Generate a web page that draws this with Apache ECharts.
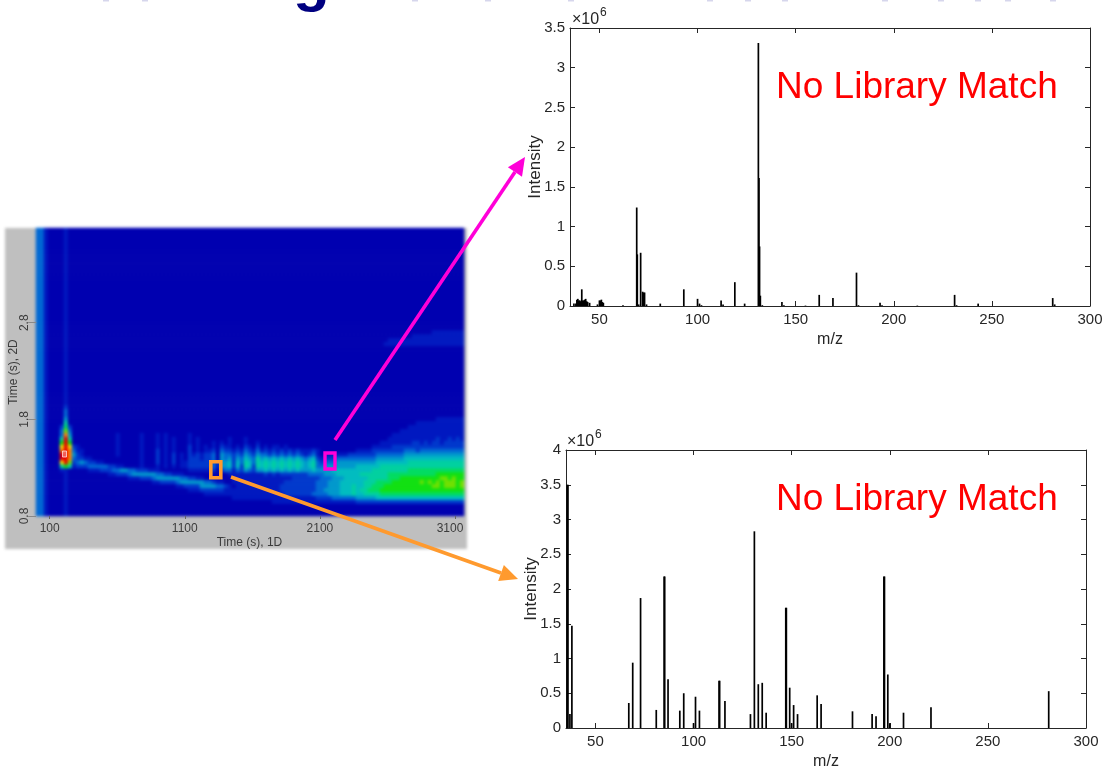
<!DOCTYPE html>
<html>
<head>
<meta charset="utf-8">
<style>
html,body{margin:0;padding:0;background:#fff;width:1106px;height:767px;overflow:hidden}
#heat,#main{position:absolute;left:0;top:0;width:1106px;height:767px}
#heat{filter:blur(1.5px)}
</style>
<script src="https://cdn.jsdelivr.net/npm/echarts@6/dist/echarts.min.js"></script>
</head>
<body>
<div id="heat"></div>
<div id="main"></div>
<script>
// ---- top spectrum (m/z, intensity in 10^6) ----
const topMz = [37,38,38.5,39,39.5,40,40.5,41,41.5,42,42.5,43,43.5,44,45,49,50,50.5,51,51.5,52,62,69,69.3,70,71,72,72.5,73,74,81,93,100,101,102,112,113,119,124,131,131.3,131.6,132,133,143,144,155,162,169,181,182,193,194,212,231,232,243,281,282];
const topIntensity = [0.03,0.03,0.08,0.09,0.07,0.07,0.06,0.21,0.07,0.07,0.08,0.09,0.06,0.05,0.04,0.02,0.07,0.07,0.08,0.05,0.04,0.01,1.24,0.65,0.02,0.67,0.18,0.17,0.17,0.02,0.03,0.21,0.09,0.03,0.01,0.07,0.02,0.30,0.03,3.31,1.61,0.75,0.13,0.01,0.05,0.01,0.005,0.14,0.10,0.42,0.01,0.04,0.01,0.005,0.14,0.01,0.03,0.10,0.02];
// ---- bottom spectrum ----
const botMz = [35.6,36,37,38,67,69,73,81,85,85.3,87,93,95,100,101,103,113,113.3,116,129,131,133,135,137,147,147.3,149,150,151,153,163,165,181,191,193,197,197.3,199,200,207,221,281];
const botIntensity = [3.5,3.5,0.2,1.47,0.36,0.94,1.87,0.26,2.18,2.18,0.70,0.25,0.5,0.07,0.45,0.25,0.68,0.68,0.39,0.2,2.83,0.63,0.65,0.22,1.73,1.73,0.58,0.07,0.33,0.2,0.47,0.345,0.24,0.2,0.17,2.18,2.18,0.77,0.07,0.22,0.3,0.53];
// ---- tick labels ----
const mzTicks = [50,100,150,200,250,300];
const time1DTicks = [100,1100,2100,3100];
const time2DTicks = [0.8,1.8,2.8];
// ---- 2D chromatogram, hand-read intensity levels (hex digit per cell, top to bottom, left to right) ----
const columnLevels = [3,3,1,0,0,0,0,1];
const heatRows = [
'','','','','','','','','','','','','','','','','','','','','','','','','','',
'0000000000 0000000000 0000000000 0000000000 0000000000 0000000000 0000000000 0000000000 0000000000 0000000001 1111111',
'0000000000 0000000000 0000000000 0000000000 0000000000 0000000000 0000000000 0000000000 0000000000 0000111111 1111111',
'0000000000 0000000000 0000000000 0000000000 0000000000 0000000000 0000000000 0000000000 0000000011 1111111111 1111111',
'0000000000 0000000000 0000000000 0000000000 0000000000 0000000000 0000000000 0000000000 0000000111 1111111111 1111111',
'','','','','','','','','','','','','','','',
'0000000200',
'0000000300',
'0000000300',
'0000000400 0000000000 0000000000 0000000000 0000000000 0000000000 0000000000 0000000000 0000000000 0000000000 1111111',
'0000000600 0000000000 0000000000 0000000000 0000000000 0000000000 0000000000 0000000000 0000000000 0000011111 1111111',
'0000002720 0000000000 0000000000 0000000000 0000000000 0000000000 0000000000 0000000000 0000000000 0001111111 1111111',
'0000003930 0000000000 0000000000 0000000000 0000000000 0000000000 0000000000 0000000000 0000000000 0111111111 1111111',
'0000003b40 0000000000 1000001000 1010000010 0000000000 0000000000 0000000000 0000000000 0000000001 1111111111 1111111',
'0000006c60 0000000000 1000001000 1010100010 1000000010 0010000000 0000000000 0000000000 0000000011 1111111111 2112121',
'0000008c80 0000000000 1000001000 1010100010 1000101010 0010010000 0000000000 0000000000 0000001111 1111221212 2122222',
'000000aca2 1000000000 1000001000 1010100020 1010102110 1021020101 1010000000 0000000000 0000111112 2222222222 2222222',
'000000bcb3 1100000000 1000001000 2010100020 1011203221 2132131212 1212121112 1000000000 1111222222 2233323333 3333333',
'000000ccb4 2100000000 1000001000 2010201021 2122304332 3243243323 2323232123 1011111122 2222233333 3344444444 4444444',
'000000ccb3 2211000000 0000001000 2010201022 2122304342 4354364545 4545454345 2122233333 3333344444 4455555555 5555555',
'000000ac92 3432211000 0000001000 2010201122 2222314452 5365365656 5656565456 3233344444 4444455555 5556666666 6666666',
'0000006861 2223333322 1100001000 1010101122 2222314452 5265265656 5656565456 3344444444 5555556666 6666666666 6666666',
'0000001100 0001112223 3443322211 1000000011 1111202331 3243244545 4545454445 4444555555 5555666666 6667777777 7777777',
'0000000000 0000000011 2223444444 3322111000 0000000011 1111111212 1222222233 3344455555 5666666677 7777777777 8888888',
'0000000000 0000000000 0001112223 4444443322 1100000001 1111111111 1111222222 2333444555 5556666677 7888888888 8998988',
'0000000000 0000000000 0000000001 1222234444 4433211001 1111111111 1122222222 3334445555 5566677778 8888889898 9899989',
'0000000000 0000000000 0000000000 0000011222 2444433210 1111111111 1222222222 3334445556 5566777888 8888888889 9899989',
'0000000000 0000000000 0000000000 0000000011 1222222111 1111111111 1222222222 3344445556 5667778888 8888888888 8888888',
'0000000000 0000000000 0000000000 0000000000 0011111111 1111111111 1122222223 3334445556 5566667777 7777777777 7777777',
'0000000000 0000000000 0000000000 0000000000 0000000001 1111111111 1111111111 2222333333 4444455555 5555555555 5555555',
'0000000000 0000000000 0000000000 0000000000 0000000000 0000000001 1111111111 1111111111 2222222222 2222222222 2222222',
'',
'','' 
];
const heatColors = ['#0000b0','#0018c0','#0038cc','#0068d4','#0098cc','#00bcc0','#00d0a0','#00dc60','#10e010','#70e000','#f0e000','#ff8000','#e80000'];

const FONT = '"Liberation Sans", Arial, sans-serif';
const COLS = 107, ROWS = heatRows.length;
const heatData = [];
for (let r = 0; r < ROWS; r++) {
  const s = heatRows[r].replace(/ /g, '');
  for (let c = 0; c < COLS; c++) {
    const v = parseInt(s[c] || '0', 16);
    heatData.push([c, r, Math.max(v, columnLevels[c] || 0)]);
  }
}
const colCats = Array.from({length: COLS}, (_, i) => i);
const rowCats = Array.from({length: ROWS}, (_, i) => i);

const heat = echarts.init(document.getElementById('heat'), null, {renderer: 'canvas'});
heat.setOption({
  animation: false,
  graphic: [{type: 'rect', z: -10, shape: {x: 5, y: 228, width: 462, height: 321}, style: {fill: '#bfbfbf'}}],
  grid: {left: 36, top: 228, width: 428, height: 288, containLabel: false, outerBoundsMode: 'none'},
  xAxis: {type: 'category', data: colCats, show: false},
  yAxis: {type: 'category', data: rowCats, inverse: true, show: false},
  visualMap: {show: false, min: 0, max: 12, inRange: {color: heatColors}, calculable: false},
  series: [{type: 'heatmap', data: heatData, progressive: 0, silent: true, itemStyle: {borderWidth: 0}}]
});

const INK = '#262626';
function specX(i, g, mirror) {
  return {
    type: 'value', gridIndex: g, min: 35, max: 300, position: mirror ? 'top' : 'bottom',
    name: mirror ? '' : 'm/z', nameLocation: 'middle', nameGap: 26,
    nameTextStyle: {fontFamily: FONT, fontSize: 16, color: INK},
    axisLine: {show: true, onZero: false, lineStyle: {color: INK, width: 1}},
    axisTick: {show: true, inside: true, length: 5, customValues: mzTicks, lineStyle: {color: INK}},
    axisLabel: {show: !mirror, customValues: mzTicks, margin: 6, fontFamily: FONT, fontSize: 15, color: INK, hideOverlap: false, showMinLabel: true, showMaxLabel: true},
    splitLine: {show: false}
  };
}
function specY(g, maxV, mirror) {
  return {
    type: 'value', gridIndex: g, min: 0, max: maxV, interval: 0.5, position: mirror ? 'right' : 'left',
    name: mirror ? '' : 'Intensity', nameLocation: 'middle', nameGap: 26, nameMoveOverlap: false,
    nameTextStyle: {fontFamily: FONT, fontSize: 17, color: INK},
    axisLine: {show: true, onZero: false, lineStyle: {color: INK, width: 1}},
    axisTick: {show: true, inside: true, length: 5, lineStyle: {color: INK}},
    axisLabel: {show: !mirror, margin: 5, fontFamily: FONT, fontSize: 15, color: INK},
    splitLine: {show: false}
  };
}
const GREY = '#3c3c3c';
const zip = (a, b) => a.map((v, i) => [v, b[i]]);
function arrow(x1, y1, x2, y2, color, w) {
  const a = Math.atan2(y2 - y1, x2 - x1), L = 18, H = 8.5;
  const bx = x2 - L * Math.cos(a), by = y2 - L * Math.sin(a);
  const nx = -Math.sin(a), ny = Math.cos(a);
  return [
    {type: 'line', z: 20, shape: {x1, y1, x2: bx, y2: by}, style: {stroke: color, lineWidth: w}},
    {type: 'polygon', z: 20, shape: {points: [[x2, y2], [bx + nx * H, by + ny * H], [bx - nx * H, by - ny * H]]}, style: {fill: color}}
  ];
}
const ghostTitleMarks = [103,142,412,485,568,707,745,782,882,938,975,1005,1050];

const main = echarts.init(document.getElementById('main'), null, {renderer: 'canvas'});
main.setOption({
  animation: false,
  backgroundColor: 'transparent',
  grid: [
    {left: 36, top: 228, width: 427, height: 288, outerBoundsMode: 'none'},
    {left: 570, top: 28, width: 520, height: 278, outerBoundsMode: 'none'},
    {left: 566, top: 450, width: 520, height: 278, outerBoundsMode: 'none'}
  ],
  xAxis: [
    {
      type: 'value', gridIndex: 0, min: -1, max: 3159, position: 'bottom',
      name: 'Time (s), 1D', nameLocation: 'middle', nameGap: 21,
      nameTextStyle: {fontFamily: FONT, fontSize: 12, color: GREY},
      axisLine: {show: false},
      axisTick: {show: true, length: 3, customValues: time1DTicks, lineStyle: {color: '#666'}},
      axisLabel: {
        customValues: time1DTicks, margin: 7, fontFamily: FONT, fontSize: 12, color: GREY,
        formatter: v => v === 3100 ? '{s|' + v + '}' : String(v),
        rich: {s: {fontFamily: FONT, fontSize: 12, color: GREY, padding: [0, 10, 0, 0]}}
      },
      splitLine: {show: false}
    },
    specX(0, 1, false), specX(0, 1, true),
    specX(0, 2, false), specX(0, 2, true)
  ],
  yAxis: [
    {
      type: 'value', gridIndex: 0, min: 0.8, max: 3.78, position: 'left',
      name: 'Time (s), 2D', nameLocation: 'middle', nameGap: 16, nameMoveOverlap: false,
      nameTextStyle: {fontFamily: FONT, fontSize: 12, color: GREY},
      axisLine: {show: false},
      axisTick: {show: true, length: 8, customValues: time2DTicks, lineStyle: {color: '#888'}},
      axisLabel: {customValues: time2DTicks, rotate: 90, margin: 5, fontFamily: FONT, fontSize: 12, color: GREY},
      splitLine: {show: false}
    },
    specY(1, 3.5, false), specY(1, 3.5, true),
    specY(2, 4, false), specY(2, 4, true)
  ],
  series: [
    {type: 'bar', xAxisIndex: 1, yAxisIndex: 1, barWidth: 1.7, silent: true, itemStyle: {color: '#000'}, data: zip(topMz, topIntensity)},
    {type: 'bar', xAxisIndex: 3, yAxisIndex: 3, barWidth: 1.7, silent: true, itemStyle: {color: '#000'}, data: zip(botMz, botIntensity)}
  ],
  graphic: [
    {type: 'text', z: 5, x: 293, y: 13, style: {text: 'g', fontFamily: FONT, fontWeight: 'bold', fontSize: 60, fill: '#000080', verticalAlign: 'bottom'}},
    ...ghostTitleMarks.map(x => ({type: 'rect', z: 5, shape: {x: x, y: 0, width: 6, height: 1.5}, style: {fill: '#d6d6ec'}})),
    {type: 'text', z: 10, x: 572, y: 20, style: {text: '×10', fontFamily: FONT, fontSize: 16, fill: INK, verticalAlign: 'middle'}},
    {type: 'text', z: 10, x: 600, y: 13, style: {text: '6', fontFamily: FONT, fontSize: 12, fill: INK, verticalAlign: 'middle'}},
    {type: 'text', z: 10, x: 567, y: 442, style: {text: '×10', fontFamily: FONT, fontSize: 16, fill: INK, verticalAlign: 'middle'}},
    {type: 'text', z: 10, x: 595, y: 435, style: {text: '6', fontFamily: FONT, fontSize: 12, fill: INK, verticalAlign: 'middle'}},
    {type: 'text', z: 10, x: 776, y: 88, style: {text: 'No Library Match', fontFamily: FONT, fontSize: 37, fill: '#ff0000', verticalAlign: 'middle'}},
    {type: 'text', z: 10, x: 776, y: 500, style: {text: 'No Library Match', fontFamily: FONT, fontSize: 37, fill: '#ff0000', verticalAlign: 'middle'}},
    {type: 'rect', z: 15, shape: {x: 62.5, y: 451, width: 4, height: 6}, style: {fill: 'rgba(255,255,255,0.35)', stroke: 'rgba(255,220,220,0.8)', lineWidth: 1}},
    {type: 'rect', z: 20, shape: {x: 210.8, y: 461.8, width: 10, height: 16}, style: {fill: 'none', stroke: '#ff9a2e', lineWidth: 3.6}},
    {type: 'rect', z: 20, shape: {x: 325, y: 453, width: 10, height: 16}, style: {fill: 'none', stroke: '#ff00d8', lineWidth: 3.4}},
    ...arrow(335, 440, 525, 157, '#ff00d8', 3.6),
    ...arrow(231, 477, 518, 579, '#ff9a2e', 3.6)
  ]
});
</script>
</body>
</html>
